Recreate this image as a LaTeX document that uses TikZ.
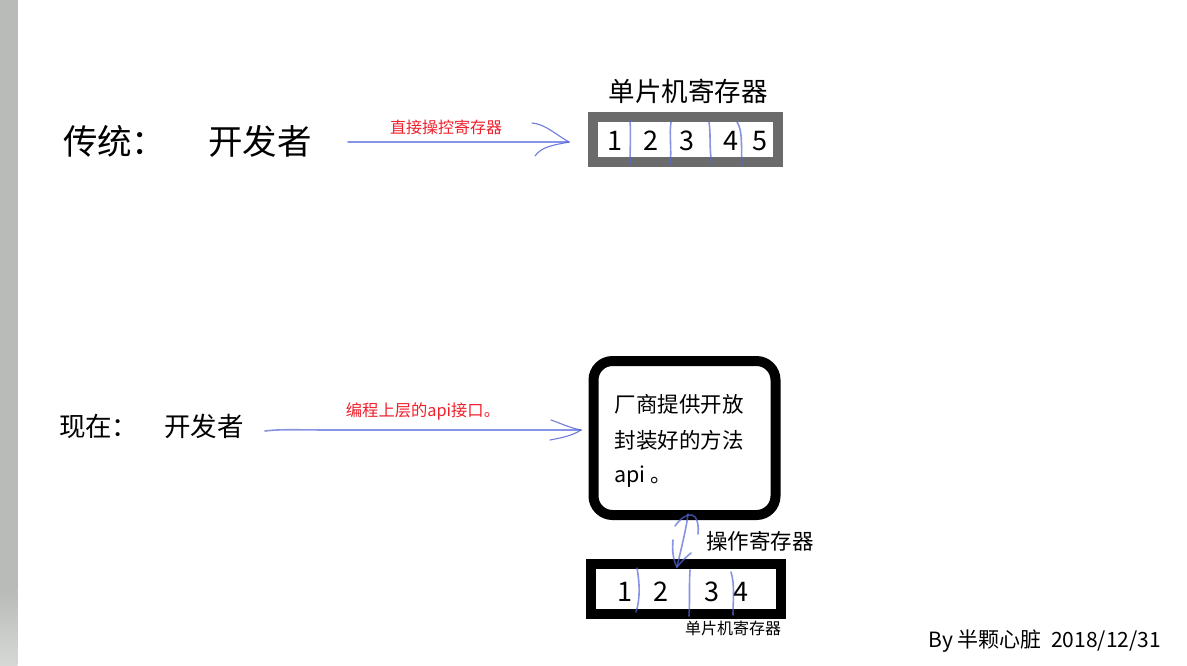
\documentclass[tikz,border=0pt]{standalone}
\usepackage{fontspec}
\setmainfont{Noto Sans CJK SC}[BoldFont={Noto Sans CJK SC}]
\tikzset{
 x=1pt,y=-1pt,
 txt/.style={inner sep=0pt,outer sep=0pt,anchor=center,text=black},
 big/.style={txt,font=\fontsize{34.5}{34.5}\selectfont},
 mid/.style={txt,font=\fontsize{26.5}{26.5}\selectfont},
 reg/.style={txt,font=\fontsize{27}{27}\selectfont},
 red/.style={txt,text=redink,font=\fontsize{16}{16}\selectfont},
 ink/.style={draw=blueink,line width=1.6pt,line cap=round,line join=round,opacity=.7},
 inkthin/.style={draw=blueink,line width=1.1pt,line cap=round,line join=round,opacity=.85},
}
\definecolor{blueink}{HTML}{5566D8}
\definecolor{redink}{HTML}{F0202C}
\definecolor{stripc}{HTML}{B9BBB9}
\definecolor{stripl}{HTML}{D6D8D5}
\definecolor{grayframe}{HTML}{6B6B6B}
\begin{document}
\begin{tikzpicture}
\useasboundingbox (0,0) rectangle (1187,665);
\fill[white] (0,0) rectangle (1187,665);
\fill[stripc] (0,0) rectangle (17.6,590);
\shade[top color=stripc,bottom color=stripl] (0,590) rectangle (17.6,665);

% top row
\node[big,anchor=west] (trad) at (63,141) {传统：};
\node[big] (dev1) at (260,141) {开发者};
\node[mid] (regtitle) at (688,91) {单片机寄存器};
\node[red] (lab1) at (446,127) {直接操控寄存器};
\fill[grayframe] (588,112) rectangle (783,167);
\fill[white] (598,122) rectangle (773,157);
\node[reg] (t1) at (614.5,141) {1};
\node[reg] (t2) at (650.5,141) {2};
\node[reg] (t3) at (686.5,141) {3};
\node[reg] (t4) at (730.5,141) {4};
\node[reg] (t5) at (760,141) {5};
\coordinate (a1s) at (348,142);
\coordinate (a1e) at (569,142);
\draw[ink] (a1s) -- (a1e);
\draw[inkthin] (532,123) .. controls (545,124) and (555,134) .. (569,142);
\draw[inkthin] (569,142) .. controls (555,145) and (542,146) .. (535,156);
\draw[ink] (630,120) .. controls (631,135) and (630,150) .. (630,164);
\draw[ink] (671,122) .. controls (669,135) and (672,150) .. (670,165);
\draw[ink] (709,122) .. controls (711,135) and (709,150) .. (712,164);
\draw[ink] (737,122) .. controls (743,130) and (741,150) .. (742,165);

% lower row
\node[mid,anchor=west] (now) at (59,426) {现在：};
\node[mid] (dev2) at (204,426) {开发者};
\node[red,font=\fontsize{16.3}{16.3}\selectfont] (lab2) at (423,411) {编程上层的api接口。};
\coordinate (a2s) at (265,431);
\coordinate (a2e) at (581,430);
\draw[ink] (a2s) .. controls (280,429) and (300,430) .. (330,430) -- (a2e);
\draw[inkthin] (551,420) .. controls (560,423) and (570,428) .. (581,430);
\draw[inkthin] (581,430) .. controls (572,436) and (560,438) .. (550,440);

\node[draw=black,line width=10pt,rounded corners=19pt,minimum width=182pt,minimum height=154pt,inner sep=0pt,fill=white] (api) at (684.5,438) {};
\node[txt,anchor=west,font=\fontsize{21.5}{21.5}\selectfont] (l1) at (614.5,404) {厂商提供开放};
\node[txt,anchor=west,font=\fontsize{21.5}{21.5}\selectfont] (l2) at (614.5,440) {封装好的方法};
\node[txt,anchor=west,font=\fontsize{21.5}{21.5}\selectfont] (l3) at (614.5,477) {api 。};

\fill[black] (586,559) rectangle (786,619);
\fill[white] (596,569) rectangle (776,609);
\node[reg] (b1) at (625,592) {1};
\node[reg] (b2) at (660.5,592) {2};
\node[reg] (b3) at (711.5,592) {3};
\node[reg] (b4) at (741,592) {4};
\draw[ink] (637,568) .. controls (640,585) and (640,600) .. (636,612);
\draw[ink] (690,570) .. controls (689,585) and (690,600) .. (689,616);
\draw[ink] (731,572) .. controls (735,585) and (733,600) .. (733,615);
\node[txt,font=\fontsize{21.5}{21.5}\selectfont] (oplab) at (760,541) {操作寄存器};
\node[txt,font=\fontsize{16}{16}\selectfont] (reglab2) at (733,628) {单片机寄存器};

% double hand-drawn arrow
\draw[ink] (698,534) .. controls (699,525) and (697,516) .. (692,515) .. controls (686,514) and (680,519) .. (675,526);
\draw[ink] (688,514) .. controls (686,530) and (682,545) .. (677,567);
\draw[ink] (673,540) .. controls (672,550) and (673,560) .. (677,567) .. controls (681,562) and (686,557) .. (691,553);

\node[txt,anchor=east,font=\fontsize{21}{21}\selectfont] (by) at (1161,641) {By 半颗心脏\ \ 2018/12/31};
\end{tikzpicture}
\end{document}
